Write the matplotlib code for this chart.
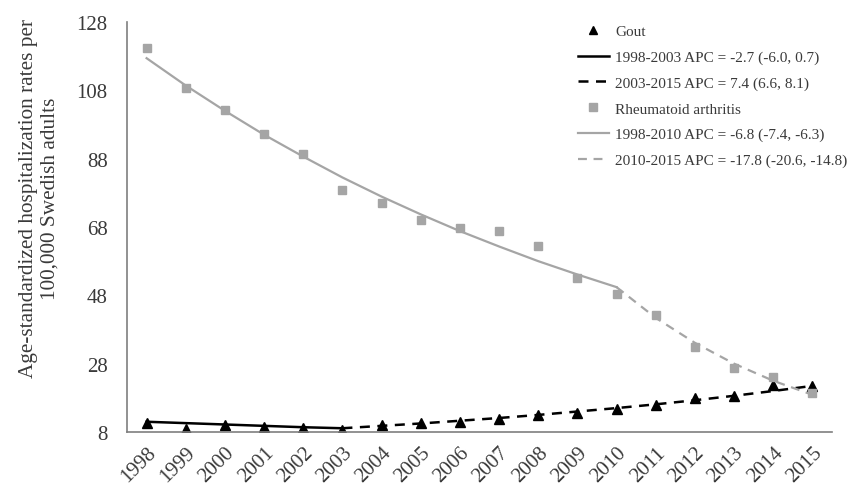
import numpy as np
import matplotlib
matplotlib.use("Agg")
import matplotlib.pyplot as plt
from matplotlib.lines import Line2D

# Dados
anos = [str(a) for a in range(1998, 2016)]

gota = [10.6, 9.0, 10.0, 9.6, 9.3, 8.6, 10.0, 10.6, 11.0, 11.7, 12.9, 13.7,
        14.7, 15.9, 18.0, 18.4, 21.8, 21.6]
gota_fit1 = [11.0, 10.6, 10.2, 9.8, 9.4, 9.1]                     # 1998-2003
gota_fit2 = [9.1, 9.8, 10.5, 11.3, 12.1, 13.0, 14.0, 15.0, 16.1,
             17.3, 18.6, 20.0, 21.5]                               # 2003-2015

ar = [120.4, 108.6, 102.1, 95.2, 89.4, 78.8, 75.0, 70.1, 67.6, 66.8, 62.3,
      53.0, 48.5, 42.3, 33.0, 26.6, 24.0, 19.4]
ar_fit1 = [117.4, 109.4, 102.0, 95.0, 88.6, 82.5, 76.9, 71.7, 66.8,
           62.3, 58.0, 54.1, 50.4]                                 # 1998-2010
ar_fit2 = [50.4, 41.4, 34.1, 28.0, 23.0, 18.9]                     # 2010-2015

legendas = ["Gout",
            "1998-2003 APC = -2.7 (-6.0, 0.7)",
            "2003-2015 APC = 7.4 (6.6, 8.1)",
            "Rheumatoid arthritis",
            "1998-2010 APC = -6.8 (-7.4, -6.3)",
            "2010-2015 APC = -17.8 (-20.6, -14.8)"]

plt.rcParams['font.family'] = ['Liberation Serif', 'DejaVu Serif']

cinza = '#a5a5a5'
texto = '#3a3a3a'
x = np.arange(len(anos))

fig = plt.figure(figsize=(8.6, 4.89), dpi=100)
ax = fig.add_axes([0.1477, 0.1145, 0.8197, 0.8385])

# Gota
ax.plot(x[:6], gota_fit1, color='black', lw=1.8)
ax.plot(x[5:], gota_fit2, color='black', lw=1.8, dashes=(4, 3))
ax.plot(x, gota, ls='none', marker='^', color='black', ms=6.5)

# Artrite reumatoide
ax.plot(x, ar, ls='none', marker='s', color=cinza, ms=5.8)
ax.plot(x[:13], ar_fit1, color=cinza, lw=1.6)
ax.plot(x[12:], ar_fit2, color=cinza, lw=1.6, dashes=(4, 3))

ax.set_xlim(-0.5, len(anos) - 0.5)
ax.set_ylim(8, 128)
ax.set_yticks(np.arange(8, 129, 20))
ax.set_xticks(x)
ax.set_xticklabels(anos, rotation=45, ha='right', rotation_mode='anchor')
ax.tick_params(axis='y', length=0, pad=14, labelsize=15, labelcolor=texto)
ax.tick_params(axis='x', length=0, pad=8, labelsize=15, labelcolor=texto)

for lado in ['top', 'right']:
    ax.spines[lado].set_visible(False)
for lado in ['left', 'bottom']:
    ax.spines[lado].set_color('#7f7f7f')
    ax.spines[lado].set_linewidth(1.2)

fig.text(39.5 / 860, 1 - 199 / 489,
         "Age-standardized hospitalization rates per\n100,000 Swedish adults",
         rotation=90, ha='center', va='center', fontsize=15.3, color=texto,
         linespacing=1.2, multialignment='center')

handles = [
    Line2D([], [], ls='none', marker='^', color='black', ms=6),
    Line2D([], [], color='black', lw=1.8),
    Line2D([], [], color='black', lw=1.8, dashes=(4, 3)),
    Line2D([], [], ls='none', marker='s', color=cinza, ms=5.5),
    Line2D([], [], color=cinza, lw=1.6),
    Line2D([], [], color=cinza, lw=1.6, dashes=(4, 3)),
]
leg = fig.legend(handles, legendas, loc='upper left', bbox_to_anchor=(0.665, 0.960),
                 frameon=False, fontsize=11, handlelength=2.0, handletextpad=0.45,
                 labelspacing=0.78, borderaxespad=0)
for t in leg.get_texts():
    t.set_color(texto)

fig.savefig('out.png', dpi=100)
